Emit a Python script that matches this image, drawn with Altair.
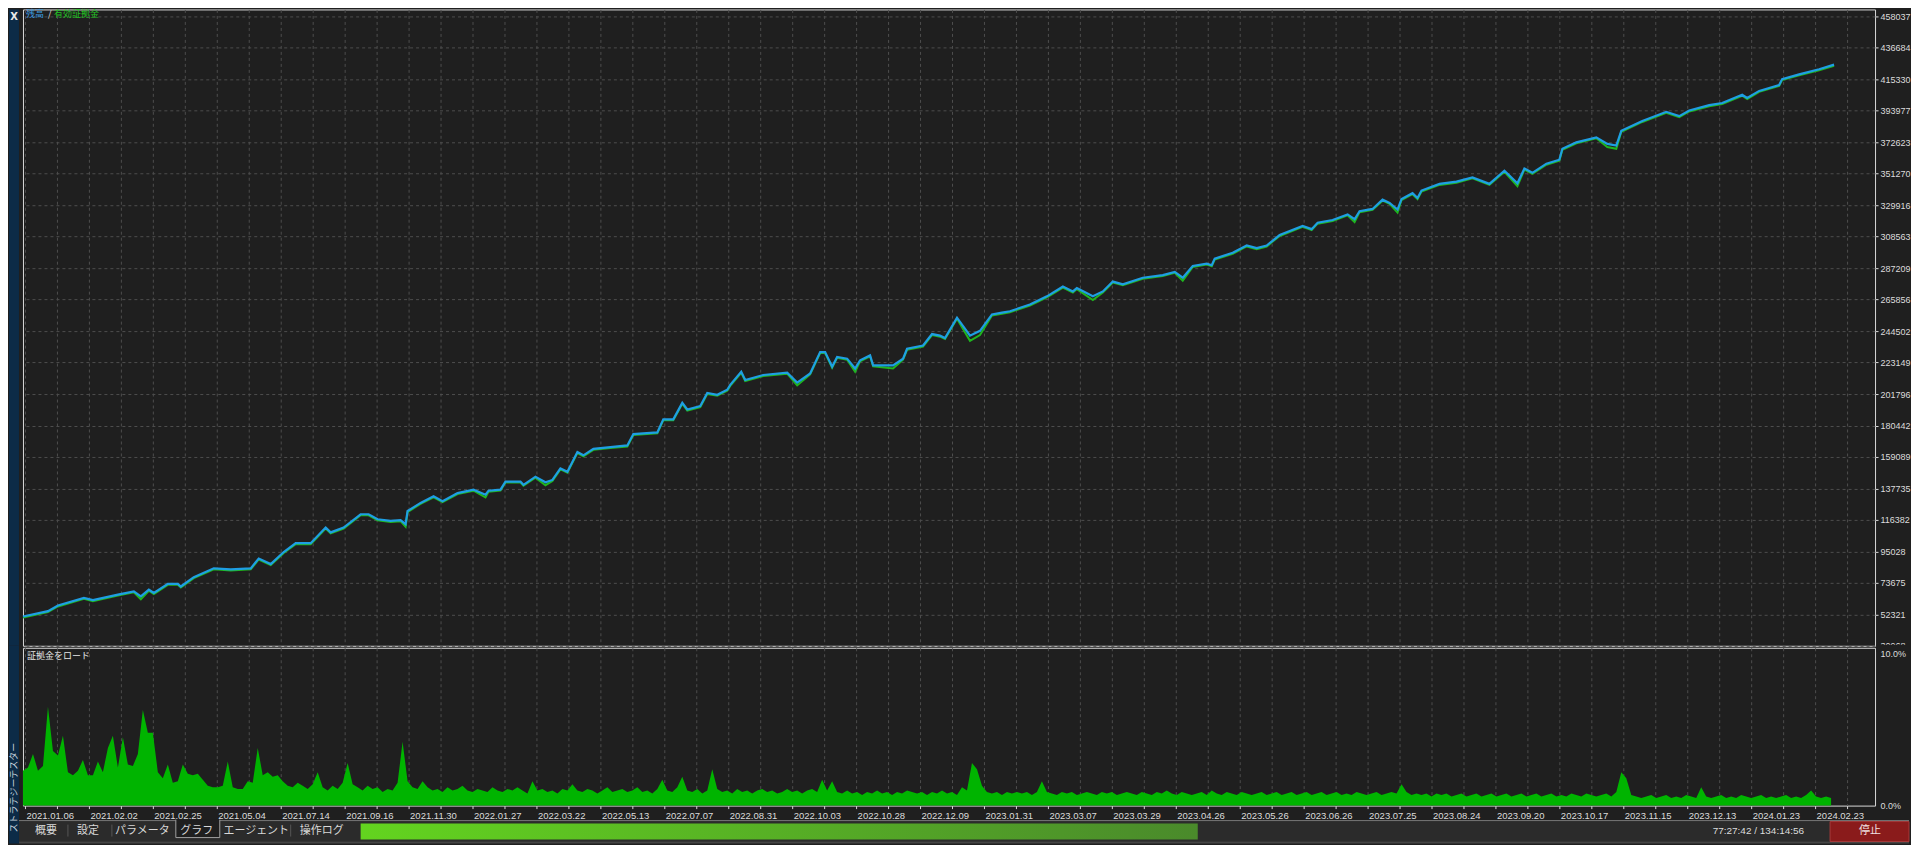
import altair as alt
import pandas as pd

W = 1854
H1 = 637
H2 = 158

# ---------------- data ----------------
deal_idx = [0, 25, 35, 61, 70, 95, 111, 118, 126, 131, 145, 155, 158, 171, 191, 208, 228, 236, 248, 261,
            273, 288, 303, 308, 321, 338, 346, 355, 368, 378, 383, 385, 398, 411, 420, 435, 451, 463, 466, 478,
            483, 498, 501, 513, 523, 530, 538, 545, 555, 561, 571, 588, 605, 611, 635, 641, 651, 660, 665, 678,
            685, 695, 705, 708, 719, 723, 741, 765, 775, 788, 798, 803, 810, 815, 825, 833, 838, 848, 851, 871,
            881, 885, 901, 910, 918, 923, 935, 948, 958, 970, 980, 988, 1008, 1025, 1041, 1051, 1055, 1071, 1081, 1091,
            1101, 1121, 1141, 1153, 1161, 1171, 1185, 1190, 1193, 1211, 1225, 1235, 1245, 1258, 1281, 1290, 1296, 1311, 1326, 1333,
            1338, 1351, 1361, 1368, 1376, 1380, 1391, 1396, 1400, 1418, 1435, 1451, 1468, 1483, 1496, 1503, 1511, 1525, 1538, 1541,
            1555, 1575, 1586, 1595, 1600, 1621, 1645, 1658, 1668, 1688, 1701, 1721, 1726, 1738, 1758, 1761, 1778, 1798, 1813]
balance = [50800, 54500, 58300, 63500, 61900, 65700, 67900, 64500, 69000, 66800, 73000, 73000, 71200, 77500, 83500, 82800, 83500, 90200, 86400, 94600,
           100600, 100600, 111200, 107900, 111200, 120200, 120200, 116800, 115700, 116200, 113500, 122400, 127900, 132400, 129100, 134600, 136900, 133500, 136200, 136900,
           142400, 142400, 140200, 145700, 141900, 143500, 151300, 149100, 162400, 160200, 164600, 165800, 166900, 174600, 175800, 184600, 184600, 195800, 191300, 193600,
           202500, 201300, 204700, 208000, 216900, 211300, 214700, 216300, 209600, 215800, 230300, 230300, 220300, 227000, 225800, 219100, 224700, 228000, 221300, 221300,
           225800, 232500, 234700, 242500, 241400, 239800, 253600, 241400, 244700, 255800, 257000, 258000, 262500, 268100, 274700, 271400, 273700, 268100, 271400, 278100,
           276300, 280700, 282500, 284700, 280700, 288700, 290300, 289200, 293700, 297700, 302600, 300800, 302600, 309700, 315900, 313700, 318100, 319900, 323700, 320400,
           325900, 327400, 333700, 331500, 327000, 334100, 338100, 334800, 339900, 344400, 345900, 348800, 344400, 353300, 344800, 354800, 351900, 358100, 360800, 368200,
           372600, 376000, 371500, 370400, 380400, 387100, 393300, 390400, 394200, 397800, 399300, 404900, 402700, 407500, 411500, 415500, 418700, 422200, 425300]
# equity differs from balance only where open positions were in drawdown
equity_dips = {118: 63200, 383: 112400, 463: 132300, 523: 140600, 775: 208300, 833: 217600, 871: 219800,
               948: 238600, 958: 242500, 1071: 266200, 1161: 279300, 1333: 319200, 1376: 325600,
               1496: 343500, 1586: 370100, 1595: 368900}
equity = [equity_dips.get(d, b) for d, b in zip(deal_idx, balance)]

y_ticks = [30968, 52321, 73675, 95028, 116382, 137735, 159089, 180442, 201796, 223149, 244502,
           265856, 287209, 308563, 329916, 351270, 372623, 393977, 415330, 436684, 458037]

date_labels = ["2021.01.06", "2021.02.02", "2021.02.25", "2021.05.04", "2021.07.14", "2021.09.16",
               "2021.11.30", "2022.01.27", "2022.03.22", "2022.05.13", "2022.07.07", "2022.08.31",
               "2022.10.03", "2022.10.28", "2022.12.09", "2023.01.31", "2023.03.07", "2023.03.29",
               "2023.04.26", "2023.05.26", "2023.06.26", "2023.07.25", "2023.08.24", "2023.09.20",
               "2023.10.17", "2023.11.15", "2023.12.13", "2024.01.23", "2024.02.23"]

# margin load (%), one reading every 5 deals
margin_load = [
    2.3, 2.5, 3.4, 2.3, 2.6, 6.5, 3.6, 3.3, 4.6, 2.2, 2.0, 2.3, 3.0, 2.0, 2.0, 2.9, 2.2, 3.8, 4.6, 2.5,
    4.5, 2.7, 2.6, 3.4, 6.3, 4.8, 4.8, 2.2, 1.8, 2.7, 1.5, 1.6, 2.7, 2.1, 2.0, 2.1, 1.7, 1.3, 1.2, 1.2,
    1.3, 2.9, 1.2, 1.1, 1.1, 1.6, 1.5, 3.8, 2.0, 2.2, 1.9, 2.0, 1.6, 1.3, 1.2, 1.5,
    1.3, 1.1, 1.4, 2.2, 1.2, 1.0, 1.3, 1.1, 1.5, 2.8, 1.4, 1.2, 1.0, 1.3, 1.1, 1.2, 0.9, 1.1, 1.0, 1.5,
    4.2, 1.6, 1.2, 1.1, 1.6, 1.2, 1.0, 1.1, 0.9, 1.2, 1.0, 1.1, 1.3, 1.0, 0.9, 1.1, 1.0, 0.9, 1.2, 1.0,
    0.9, 1.1, 1.0, 1.2,
    1.0, 0.8, 1.6, 1.0, 1.1, 0.9, 1.0, 0.8, 1.1, 1.0, 1.4, 1.0, 0.9, 1.1, 1.0, 0.8, 1.0, 1.2, 0.9, 1.0,
    1.1, 0.9, 1.0, 1.2, 0.9, 1.0, 0.8, 1.1, 1.7, 1.0, 0.9, 1.2, 1.9, 1.0, 0.9, 1.1, 0.8, 1.0, 2.4, 1.1,
    0.9, 1.0, 0.8, 1.1, 0.9, 1.0, 0.8, 1.0, 1.1, 0.9, 1.0, 0.8, 0.9, 1.1, 0.9, 1.0, 0.8, 1.0, 1.1, 0.9,
    1.7, 1.0, 1.6, 0.9, 0.8, 1.0, 0.8, 0.9, 0.7, 0.9, 0.8, 1.0, 0.8, 0.9, 0.7, 0.9, 0.8, 1.0, 0.9, 0.8,
    0.9, 0.7, 0.9, 0.8, 1.0, 0.8, 0.9, 0.7, 1.2, 1.0, 2.8, 2.4, 1.3, 0.9, 0.8, 0.9, 0.7, 0.9, 0.8, 0.9,
    0.8, 0.9, 0.7, 0.9, 1.6, 0.9, 0.8, 0.7, 0.9, 0.8, 0.9, 0.7, 0.8, 0.9, 0.8, 0.7, 0.9, 0.8, 0.9, 0.7,
    0.8, 0.9, 0.8, 0.7, 0.9, 0.8, 0.7, 0.9, 0.8, 1.0, 0.8, 0.7, 0.9, 0.8, 0.7, 0.8, 0.9, 0.7, 1.0, 0.8,
    0.7, 0.9, 0.8, 0.7, 0.9, 0.8, 0.7, 0.8, 0.9, 0.7, 0.8, 0.9, 0.7, 0.8, 0.9, 0.7, 0.8, 0.9, 0.7, 0.8,
    0.9, 0.7, 0.8, 0.9, 0.7, 0.8, 0.7, 0.9, 0.8, 0.7, 0.8, 0.9, 0.7, 0.8, 0.9, 0.8, 1.4, 0.9, 0.7, 0.8,
    0.7, 0.8, 0.6, 0.8, 0.7, 0.8, 0.6, 0.7, 0.8, 0.6, 0.7, 0.8, 0.6, 0.7, 0.8, 0.6, 0.7, 0.8, 0.6, 0.7,
    0.8, 0.6, 0.7, 0.8, 0.6, 0.7, 0.8, 0.6, 0.7, 0.6, 0.8, 0.7, 0.6, 0.8, 0.7, 0.6, 0.7, 0.8, 0.6, 0.9,
    2.2, 1.8, 0.7, 0.6, 0.5, 0.6, 0.7, 0.5, 0.6, 0.7, 0.5, 0.6, 0.5, 0.7, 0.6, 0.5, 1.2, 0.6, 0.5, 0.6,
    0.7, 0.5, 0.6, 0.5, 0.7, 0.6, 0.5, 0.6, 0.7, 0.5, 0.6, 0.5, 0.6, 0.7, 0.5, 0.6, 0.5, 0.7, 1.0, 0.6,
    0.5, 0.6, 0.5]
margin_deal = [5 * i for i in range(len(margin_load))]

tabs = ["概要", "設定", "パラメータ", "グラフ", "エージェント", "操作ログ"]
legend_parts = ["残高", "/", "有効証拠金"]
timer_text = "77:27:42 / 134:14:56"
stop_text = "停止"
panel_title = "証拠金をロード"
side_title = "ストラテジーテスター"

# ---------------- style ----------------
BG = "#1f1f1f"
PLOT_BG = "#1f1f1f"
GRID = "#4d4d4d"
FRAME = "#d8d8d8"
TXT = "#dcdcdc"
BAL = "#1e9fe3"
EQ = "#1fb51f"
BAR = "#00b400"
SIDE = "#0c2b47"
TOOL = "#2b2b2b"
NUM_FONT = "Liberation Sans"
JP_FONT = "Noto Sans CJK JP"
RMAX = 1888  # right-most pixel (relative to plot left) that fits in the page

grid_x = list(range(2, W, 32))
arr = "[" + ",".join("'%s'" % d for d in date_labels) + "]"
date_expr = "(datum.value - 2) % 64 == 0 ? " + arr + "[(datum.value - 2) / 64] : ''"

x_scale = alt.Scale(domain=[0, W], nice=False, zero=False)
one = pd.DataFrame({"k": [0]})


def rect(x, x2, y, y2, **kw):
    return alt.Chart(one).mark_rect(**kw).encode(
        x=alt.value(x), x2=alt.value(x2), y=alt.value(y), y2=alt.value(y2))


def rule(x, x2, y, y2, color, width=1):
    return alt.Chart(one).mark_rule(color=color, strokeWidth=width).encode(
        x=alt.value(x), x2=alt.value(x2), y=alt.value(y), y2=alt.value(y2))


def text(x, y, s, **kw):
    return alt.Chart(one).mark_text(**kw).encode(
        x=alt.value(x), y=alt.value(y), text=alt.value(s))


# ---------------- upper panel ----------------
bal_df = pd.DataFrame({"deal": deal_idx, "balance": balance, "equity": equity})
y_scale = alt.Scale(domain=[30968, 462782], nice=False, zero=False)

x_axis_up = alt.Axis(values=grid_x, labels=False, ticks=False, domain=False, title=None,
                     grid=True, gridColor=GRID, gridDash=[3, 3], gridWidth=1)
y_axis_up = alt.Axis(orient="right", values=y_ticks, format="d", title=None, domain=False,
                     tickSize=3, tickColor=FRAME, labelPadding=2, labelFontSize=9,
                     labelColor=TXT, labelFont=NUM_FONT, labelOverlap=False, labelBound=False,
                     grid=True, gridColor=GRID, gridDash=[3, 3], gridWidth=1)

eq_line = alt.Chart(bal_df).mark_line(color=EQ, strokeWidth=2, yOffset=1.0).encode(
    x=alt.X("deal:Q", scale=x_scale, axis=x_axis_up),
    y=alt.Y("equity:Q", scale=y_scale, axis=y_axis_up),
)
bal_line = alt.Chart(bal_df).mark_line(color=BAL, strokeWidth=2.2).encode(
    x=alt.X("deal:Q", scale=x_scale, axis=x_axis_up),
    y=alt.Y("balance:Q", scale=y_scale, axis=y_axis_up))

upper = alt.layer(
    eq_line,
    bal_line,
    text(3, 5, legend_parts[0], color="#3b9be0", align="left", baseline="middle", font=JP_FONT, fontSize=9),
    text(25, 5, legend_parts[1], color="#e0e0e0", align="left", baseline="middle", font=JP_FONT, fontSize=9),
    text(31, 5, legend_parts[2], color="#22c322", align="left", baseline="middle", font=JP_FONT, fontSize=9),
    rect(-14, -4, 0, H1, color=SIDE),
    text(-9, 8, "X", color="#e8e8e8", align="center", baseline="middle", font="DejaVu Sans", fontSize=10, fontWeight="bold"),
).properties(width=W, height=H1)

# ---------------- lower panel ----------------
ml_df = pd.DataFrame({"deal": margin_deal, "load": margin_load})
bars = alt.Chart(ml_df).mark_area(color=BAR, interpolate="linear", opacity=1).encode(
    x=alt.X("deal:Q", scale=x_scale,
            axis=alt.Axis(values=grid_x, labelExpr=date_expr, title=None, domain=False,
                          tickSize=3, tickColor=FRAME, labelAlign="left", labelPadding=2,
                          labelOffset=1, labelFlush=False, labelOverlap=False, labelFontSize=9.5,
                          labelColor=TXT, labelFont=NUM_FONT,
                          grid=True, gridColor=GRID, gridDash=[3, 3], gridWidth=1)),
    y=alt.Y("load:Q", scale=alt.Scale(domain=[0, 10.39], nice=False, zero=True),
            axis=alt.Axis(orient="right", values=[0, 10], title=None, domain=False, ticks=False,
                          labelExpr="format(datum.value, '.1f') + '%'", labelPadding=5,
                          labelFontSize=9, labelColor=TXT, labelFont=NUM_FONT, grid=False, zindex=1)),
)

tab_x = [23, 65, 119.5, 174, 233.5, 299]
ty = 183
lower_layers = [
    rect(W + 1, RMAX, -3, 4, color=BG),
    bars,
    text(4, 8, panel_title, color="#e8e8e8", align="left", baseline="middle", font=JP_FONT, fontSize=9),
    # sidebar
    rect(-14, -4, -2, 196, color=SIDE),
    text(-9, 140, side_title, color="#c9d3dd", align="center", baseline="middle", font=JP_FONT, fontSize=9, angle=270),
    # toolbar
    rect(-4, RMAX, 173, 194, color=TOOL),
    rect(-4, RMAX, 194, 196, color="#454545"),
    rule(-4, 153, 173, 173, "#777777"),
    rule(197, RMAX, 173, 173, "#777777"),
    rect(153, 197, 172, 190, color=BG),
    rule(153, 153, 172, 190, "#a0a0a0"),
    rule(197, 197, 172, 190, "#a0a0a0"),
    rule(153, 197, 190, 190, "#a0a0a0"),
    rule(45, 45, 177, 189, "#555555"),
    rule(89, 89, 177, 189, "#555555"),
    rule(268, 268, 177, 189, "#555555"),
    alt.Chart(one).mark_rect(fill=alt.LinearGradient(
        gradient="linear", x1=0, y1=0, x2=1, y2=0,
        stops=[alt.GradientStop(offset=0, color="#63d41f"), alt.GradientStop(offset=1, color="#4a8a2b")])
    ).encode(x=alt.value(338), x2=alt.value(1176), y=alt.value(176), y2=alt.value(192)),
    text(1783, ty, timer_text, color=TXT, align="right", baseline="middle", font=NUM_FONT, fontSize=10),
    rect(1809, RMAX, 174, 194, color="#8a1b1b", stroke="#a83a3a", strokeWidth=1),
    text(1849, ty, stop_text, color="#f0e0e0", align="center", baseline="middle", font=JP_FONT, fontSize=11),
]
for s, xx in zip(tabs, tab_x):
    lower_layers.append(text(xx, ty, s, color="#d8d8d8", align="center", baseline="middle", font=JP_FONT, fontSize=11))

lower = alt.layer(*lower_layers).properties(width=W, height=H2)

chart = alt.vconcat(upper, lower, spacing=2, bounds="flush").properties(
    padding={"left": 0, "top": 0, "right": 0, "bottom": 0}, background=BG
).configure_view(stroke=FRAME, strokeWidth=1, fill=PLOT_BG).configure_axis(labelOverlap=False)

chart.save("out.html", embed_options={"renderer": "svg", "actions": False})
